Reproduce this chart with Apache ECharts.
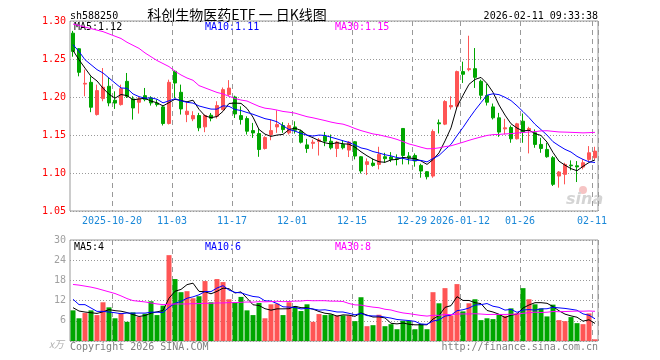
<!DOCTYPE html>
<html>
<head>
<meta charset="utf-8">
<script src="https://cdn.jsdelivr.net/npm/echarts@6/dist/echarts.min.js"></script>
<style>
html,body{margin:0;padding:0;background:#fff;}
#c{width:660px;height:360px;}
</style>
</head>
<body>
<div id="c"></div>
<script>
const dates = [
'2025-10-09','2025-10-10','2025-10-13','2025-10-14','2025-10-15','2025-10-16','2025-10-17',
'2025-10-20','2025-10-21','2025-10-22','2025-10-23','2025-10-24','2025-10-27','2025-10-28','2025-10-29','2025-10-30','2025-10-31',
'2025-11-03','2025-11-04','2025-11-05','2025-11-06','2025-11-07','2025-11-10','2025-11-11','2025-11-12','2025-11-13','2025-11-14',
'2025-11-17','2025-11-18','2025-11-19','2025-11-20','2025-11-21','2025-11-24','2025-11-25','2025-11-26','2025-11-27','2025-11-28',
'2025-12-01','2025-12-02','2025-12-03','2025-12-04','2025-12-05','2025-12-08','2025-12-09','2025-12-10','2025-12-11','2025-12-12',
'2025-12-15','2025-12-16','2025-12-17','2025-12-18','2025-12-19','2025-12-22','2025-12-23','2025-12-24','2025-12-25','2025-12-26',
'2025-12-29','2025-12-30','2025-12-31',
'2026-01-05','2026-01-06','2026-01-07','2026-01-08','2026-01-09',
'2026-01-12','2026-01-13','2026-01-14','2026-01-15','2026-01-16','2026-01-19','2026-01-20','2026-01-21','2026-01-22','2026-01-23',
'2026-01-26','2026-01-27','2026-01-28','2026-01-29','2026-01-30','2026-02-02','2026-02-03','2026-02-04','2026-02-05','2026-02-06',
'2026-02-09','2026-02-10','2026-02-11'
];
const opens = [1.284,1.2635,1.217,1.2193,1.1769,1.1979,1.2141,1.1957,1.190,1.2206,
1.1975,1.1931,1.2018,1.1988,1.192,1.187,1.1651,1.2338,1.2062,1.1769,
1.1712,1.1756,1.1607,1.176,1.1747,1.1834,1.2032,1.200,1.1755,1.1716,
1.1558,1.1519,1.1322,1.1506,1.1606,1.1624,1.1528,1.1606,1.155,1.137,
1.139,1.1415,1.1484,1.1418,1.1323,1.1376,1.1301,1.1411,1.1214,1.1113,
1.113,1.1113,1.1214,1.121,1.1188,1.1586,1.1223,1.1231,1.110,1.1017,
1.096,1.166,1.1643,1.187,1.1879,1.2334,1.236,1.2373,1.2207,1.2019,
1.187,1.1726,1.1581,1.1599,1.145,1.1682,1.1564,1.1529,1.1376,1.131,
1.1201,1.096,1.0982,1.1104,1.1095,1.1078,1.1179,1.1201];
const closes = [1.260,1.2325,1.218,1.1865,1.2084,1.2128,1.1922,1.192,1.211,1.2009,
1.1856,1.1975,1.1966,1.1922,1.190,1.1651,1.2193,1.2184,1.1843,1.1813,
1.1756,1.1594,1.1756,1.172,1.1887,1.2097,1.2117,1.1777,1.1703,1.155,
1.1527,1.1309,1.1466,1.1558,1.1637,1.1571,1.1624,1.1563,1.1405,1.1322,
1.1405,1.1435,1.1418,1.1331,1.1406,1.1332,1.1406,1.1223,1.1026,1.1148,
1.110,1.1245,1.1188,1.1179,1.1182,1.1231,1.120,1.1157,1.1026,1.0951,
1.1546,1.1647,1.194,1.1888,1.2334,1.2299,1.2373,1.2259,1.2023,1.1931,
1.1726,1.1538,1.1594,1.145,1.1647,1.1538,1.1586,1.1376,1.1323,1.1214,
1.0851,1.1013,1.1113,1.1095,1.108,1.1135,1.1266,1.1288];
const lows = [1.253,1.2272,1.201,1.180,1.1756,1.1944,1.1878,1.1843,1.1887,1.1987,
1.1703,1.1782,1.1944,1.1887,1.1874,1.1625,1.1638,1.1987,1.1769,1.1669,
1.1682,1.155,1.1537,1.168,1.1717,1.1825,1.201,1.1724,1.1637,1.1506,
1.1462,1.1213,1.1309,1.1431,1.1528,1.1528,1.1506,1.1519,1.1388,1.1265,
1.1318,1.123,1.1353,1.1309,1.121,1.131,1.121,1.1179,1.0995,1.0973,
1.1083,1.1048,1.1135,1.1144,1.110,1.1113,1.1113,1.1083,1.0938,1.0916,
1.0938,1.152,1.163,1.1835,1.1857,1.2185,1.2338,1.2119,1.1966,1.1888,
1.1704,1.1476,1.1507,1.1398,1.1441,1.1398,1.1258,1.1332,1.1266,1.1201,
1.0829,1.0807,1.0851,1.1035,1.0881,1.1048,1.1157,1.1179];
const highs = [1.287,1.2644,1.236,1.2272,1.2163,1.2381,1.225,1.2075,1.2163,1.2316,
1.201,1.200,1.2119,1.201,1.1966,1.1887,1.2228,1.2351,1.2163,1.1931,
1.1813,1.1791,1.1769,1.179,1.1944,1.2125,1.2222,1.2017,1.1877,1.1746,
1.1659,1.158,1.1484,1.1703,1.1825,1.1668,1.1659,1.168,1.1571,1.1449,
1.144,1.146,1.154,1.1506,1.142,1.1433,1.142,1.142,1.1223,1.1192,
1.1188,1.1345,1.1266,1.1275,1.1245,1.159,1.1275,1.1258,1.1122,1.1026,
1.1573,1.1704,1.1958,1.201,1.2347,1.2465,1.2806,1.2644,1.2229,1.2176,
1.1914,1.1791,1.1713,1.1625,1.166,1.1783,1.1608,1.1573,1.1463,1.1398,
1.1223,1.1026,1.1135,1.1166,1.1157,1.1179,1.1354,1.1345];
const volumes = [9.1,6.75,8.3,9.1,7.7,11.5,10.0,6.75,8.3,5.7,
8.5,7.2,8.1,11.8,7.7,10.5,25.5,18.4,14.5,14.8,
12.7,13.3,17.8,11.5,18.4,17.5,12.4,11.5,13.1,9.1,
7.7,11.3,6.75,10.9,11.1,7.7,11.5,10.3,8.9,10.9,
5.7,8.0,7.7,7.9,7.6,7.6,7.6,5.9,13.0,4.4,
4.7,7.8,4.4,5.0,3.5,6.0,6.0,3.5,5.1,3.5,
14.5,11.2,15.7,7.6,16.9,8.8,11.2,12.4,6.2,6.75,
6.5,7.9,7.5,9.7,8.2,15.7,12.4,10.9,9.7,7.3,
10.8,6.2,5.9,7.1,5.3,5.0,8.2,0.5];

// moving-average values for days whose window starts before the chart
const ma5Lead = [1.2613,1.249,1.238,1.2272];
const ma10Lead = [1.2688,1.26,1.249,1.2425,1.236,1.2316,1.225,1.2184,1.2119];
const ma30Lead = [1.296,1.294,1.292,1.290,1.288,1.286,1.283,1.280,1.277,1.272,
1.268,1.264,1.258,1.253,1.248,1.244,1.240,1.234,1.229,1.225,
1.222,1.215,1.212,1.209,1.206,1.204,1.201,1.198,1.196];
const volMa5Lead = [9.9,8.9,8.6,8.4];
const volMa10Lead = [12.4,10.8,10.8,9.8,8.8,8.8,8.6,8.4,8.1];
const volMa30Lead = [16.8,16.6,16.3,16.0,15.6,15.1,14.6,14.1,13.4,12.6,
12.0,11.8,11.6,11.3,11.0,10.8,10.9,11.0,11.0,11.0,
11.1,11.1,11.2,11.2,11.3,11.3,11.4,11.4,11.5];

const tickDates = ['2025-10-20','2025-11-03','2025-11-17','2025-12-01','2025-12-15','2025-12-29','2026-01-12','2026-01-26','2026-02-11'];
const tickTexts = ['2025-10-20','11-03','11-17','12-01','12-15','12-29','2026-01-12','01-26','02-11'];

const maLabels = ['MA5:1.12','MA10:1.11','MA30:1.15'];
const volMaLabels = ['MA5:4','MA10:6','MA30:8'];

function movingAvg(arr, n, lead) {
  return arr.map((_, i) => {
    if (i < n - 1) return lead[i];
    let s = 0;
    for (let k = i - n + 1; k <= i; k++) s += arr[k];
    return +(s / n).toFixed(4);
  });
}

const RED = '#ff5555', GREEN = '#00a600';
const MONO = '"DejaVu Sans Mono", "Liberation Mono", monospace';
const kData = dates.map((d, i) => [opens[i], closes[i], lows[i], highs[i]]);
const volData = volumes.map((v, i) => ({
  value: v,
  itemStyle: { color: closes[i] >= opens[i] ? RED : GREEN }
}));
const tickIdx = tickDates.map(d => dates.indexOf(d));
const isTick = (i) => tickIdx.indexOf(i) >= 0;

const chart = echarts.init(document.getElementById('c'));

function lineSeries(name, data, color, xi, yi) {
  return { name, type: 'line', data, xAxisIndex: xi, yAxisIndex: yi, showSymbol: false, symbol: 'none',
    lineStyle: { color, width: 1 }, itemStyle: { color }, z: 5, silent: true };
}

function catAxis(gridIndex, withLabels) {
  return {
    type: 'category', gridIndex, data: dates, boundaryGap: true,
    axisLine: { show: false },
    axisTick: { show: true, interval: isTick, length: 1, lineStyle: { color: 'rgba(0,0,0,0)' } },
    axisLabel: withLabels ? { show: true, interval: isTick,
      formatter: (v) => { const k = tickDates.indexOf(v); return k >= 0 ? tickTexts[k] : ''; },
      color: '#1a88d8', fontFamily: MONO, fontSize: 10, margin: 5, padding: [0, 6, 0, 0] } : { show: false },
    splitLine: { show: true, interval: isTick, lineStyle: { color: '#999', type: [5, 4], width: 1 } }
  };
}

chart.setOption({
  animation: false,
  grid: [
    { left: 70, width: 528, top: 21, height: 190, show: true, borderColor: '#999', borderWidth: 1 },
    { left: 70, width: 528, top: 240, height: 101, show: true, borderColor: '#999', borderWidth: 1 }
  ],
  xAxis: [ catAxis(0, true), catAxis(1, false) ],
  yAxis: [
    { type: 'value', gridIndex: 0, min: 1.05, max: 1.30, interval: 0.05,
      axisLine: { show: false }, axisTick: { show: false },
      axisLabel: { color: '#ff0000', fontFamily: MONO, fontSize: 10, margin: 4, formatter: (v) => v.toFixed(2) },
      splitLine: { show: true, lineStyle: { color: '#999', type: [1, 2], width: 1 } } },
    { type: 'value', gridIndex: 1, min: 0, max: 30, interval: 6,
      axisLine: { show: false }, axisTick: { show: false },
      axisLabel: { color: '#a0a0a0', fontFamily: MONO, fontSize: 10, margin: 4, formatter: (v) => v === 0 ? '' : String(v) },
      splitLine: { show: true, lineStyle: { color: '#999', type: [1, 2], width: 1 } } }
  ],
  series: [
    { name: 'K', type: 'candlestick', xAxisIndex: 0, yAxisIndex: 0, data: kData, barWidth: 4, z: 3,
      itemStyle: { color: RED, color0: GREEN, borderColor: RED, borderColor0: GREEN, borderWidth: 1 } },
    lineSeries('MA5', movingAvg(closes, 5, ma5Lead), '#000000', 0, 0),
    lineSeries('MA10', movingAvg(closes, 10, ma10Lead), '#0000ff', 0, 0),
    lineSeries('MA30', movingAvg(closes, 30, ma30Lead), '#ff00ff', 0, 0),
    { name: 'VOL', type: 'bar', xAxisIndex: 1, yAxisIndex: 1, data: volData, barWidth: 5, z: 3 },
    lineSeries('VMA5', movingAvg(volumes, 5, volMa5Lead), '#000000', 1, 1),
    lineSeries('VMA10', movingAvg(volumes, 10, volMa10Lead), '#0000ff', 1, 1),
    lineSeries('VMA30', movingAvg(volumes, 30, volMa30Lead), '#ff00ff', 1, 1)
  ],
  graphic: [
    { type: 'text', x: 70, y: 16, style: { text: 'sh588250', fill: '#000', font: '10px ' + MONO, verticalAlign: 'middle' } },
    { type: 'text', x: 237, y: 15, style: { text: '科创生物医药ETF 一 日K线图', fill: '#000', font: '14px "Noto Sans CJK SC"', align: 'center', verticalAlign: 'middle' } },
    { type: 'text', x: 598, y: 16, style: { text: '2026-02-11 09:33:38', fill: '#000', font: '10px ' + MONO, align: 'right', verticalAlign: 'middle' } },
    { type: 'text', x: 74, y: 27, style: { text: maLabels[0], fill: '#000', font: '10px ' + MONO, verticalAlign: 'middle' } },
    { type: 'text', x: 205, y: 27, style: { text: maLabels[1], fill: '#0000ff', font: '10px ' + MONO, verticalAlign: 'middle' } },
    { type: 'text', x: 335, y: 27, style: { text: maLabels[2], fill: '#ff00ff', font: '10px ' + MONO, verticalAlign: 'middle' } },
    { type: 'text', x: 74, y: 247, style: { text: volMaLabels[0], fill: '#000', font: '10px ' + MONO, verticalAlign: 'middle' } },
    { type: 'text', x: 205, y: 247, style: { text: volMaLabels[1], fill: '#0000ff', font: '10px ' + MONO, verticalAlign: 'middle' } },
    { type: 'text', x: 335, y: 247, style: { text: volMaLabels[2], fill: '#ff00ff', font: '10px ' + MONO, verticalAlign: 'middle' } },
    { type: 'text', x: 64, y: 344, style: { text: 'x万', fill: '#b0b0b0', font: 'italic 10px "Noto Sans CJK SC"', align: 'right', verticalAlign: 'middle' } },
    { type: 'text', x: 70, y: 347, style: { text: 'Copyright 2026 SINA.COM', fill: '#808080', font: '10px ' + MONO, verticalAlign: 'middle' } },
    { type: 'text', x: 598, y: 347, style: { text: 'http://finance.sina.com.cn', fill: '#808080', font: '10px ' + MONO, align: 'right', verticalAlign: 'middle' } },
    { type: 'circle', shape: { cx: 583, cy: 190, r: 4 }, style: { fill: '#f6c4c4' } },
    { type: 'text', x: 566, y: 200, style: { text: 'sina', fill: '#d4d4d4', font: 'italic bold 16px "DejaVu Sans"', verticalAlign: 'middle' } }
  ]
});
</script>
</body>
</html>
